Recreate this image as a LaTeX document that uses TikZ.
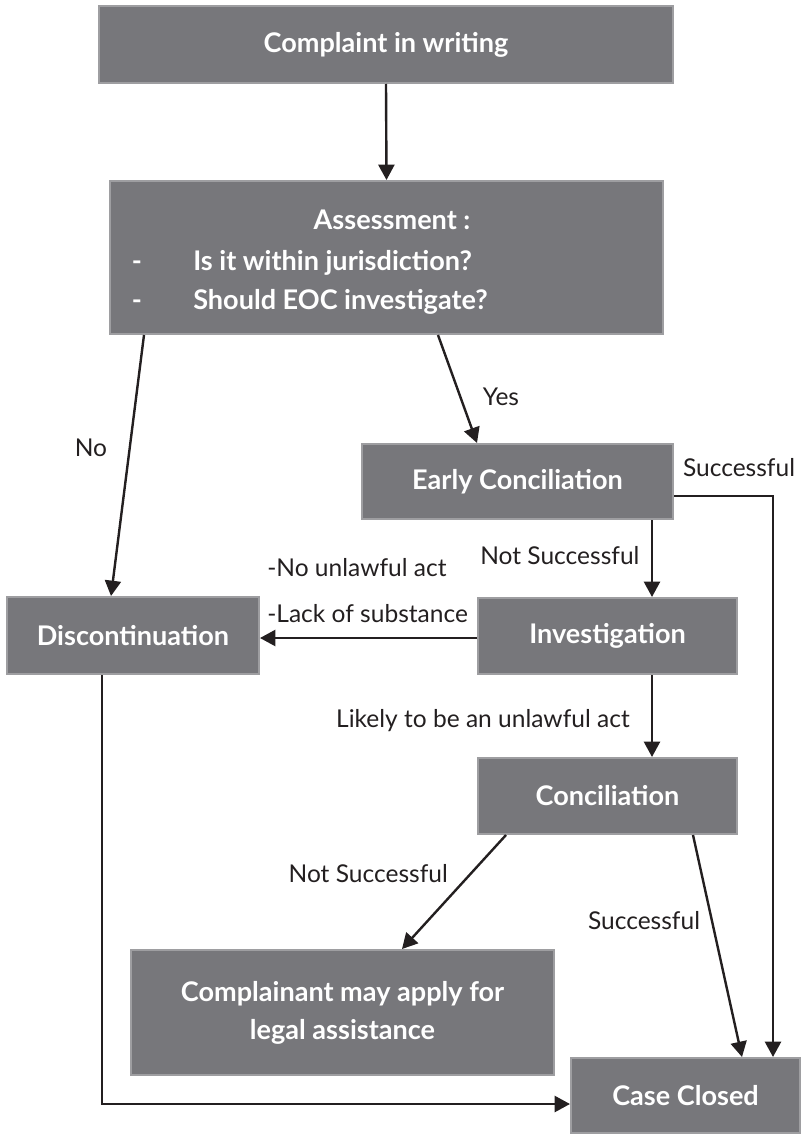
\documentclass[tikz,border=0pt]{standalone}
\usepackage{fontspec}
\setmainfont{Lato}
\usetikzlibrary{arrows.meta,calc}
\definecolor{boxfill}{RGB}{119,119,123}
\definecolor{boxline}{RGB}{158,158,161}
\definecolor{ink}{RGB}{35,31,32}
\begin{document}
\begin{tikzpicture}[x=0.75pt,y=-0.75pt,
  box/.style={draw=boxline, fill=boxfill, line width=1.5pt, inner sep=0pt,
    text=white, font=\fontsize{20.3}{28.5}\selectfont\bfseries, align=center},
  boxtext/.style={inner sep=0pt, text=white, font=\fontsize{20.3}{28.5}\selectfont\bfseries,
    text height=1.5ex, text depth=.25ex},
  lbl/.style={inner sep=0pt, text=ink, font=\fontsize{18.4}{21}\selectfont,
    text height=1.5ex, text depth=.25ex},
  arr/.style={draw=ink, line width=1.8pt, -{Triangle[length=11.5pt,width=12pt]}},
  ln/.style={draw=ink, line width=1.8pt}]
\useasboundingbox (0,0) rectangle (802,1135);

% boxes
\node[box, minimum width=430.5pt, minimum height=57.75pt] (complaint) at (386,44.5) {Complaint in writing};
\node[box, minimum width=414.75pt, minimum height=114.75pt] (assess) at (386.5,257.5) {};
\node[boxtext] (assesst) at (392,225) {Assessment :};
\node[boxtext] (dash1) at (137,266) {-};
\node[boxtext] (dash2) at (137,305) {-};
\node[boxtext, anchor=west] (q1) at (193,266) {Is it within jurisdiction?};
\node[boxtext, anchor=west] (q2) at (193,305) {Should EOC investigate?};
\node[box, minimum width=233.25pt, minimum height=56.25pt] (early) at (517.5,481.5) {Early Conciliation};
\node[box, minimum width=189pt, minimum height=57.75pt] (disc) at (133,635.5) {Discontinuation};
\node[box, minimum width=194.25pt, minimum height=57pt] (invest) at (607.5,636) {Investigation};
\node[box, minimum width=194.25pt, minimum height=57pt] (concil) at (607.5,796) {Conciliation};
\node[box, minimum width=317.25pt, minimum height=93.75pt] (compl) at (342.5,1012.5) {Complainant may apply for\\legal assistance};
\node[box, minimum width=171.75pt, minimum height=56.25pt] (closed) at (685.5,1095.5) {Case Closed};

% connectors
\draw[arr] (complaint.south) -- (assess.north);
\draw[arr] ($(assess.south west)+(35,0)$) -- ($(disc.north)+(-22,0)$);
\draw[arr] ($(assess.south west)+(329,0)$) -- ($(early.north west)+(116,0)$);
\draw[arr] ($(early.east)+(0,14.5)$) -| ($(closed.north west)+(203,0)$);
\draw[arr] ($(early.south west)+(291,0)$) -- ($(invest.north west)+(175,0)$);
\draw[arr] ($(invest.west)+(0,2)$) -- ($(disc.east)+(0,2.5)$);
\draw[arr] ($(invest.south west)+(175,0)$) -- ($(concil.north west)+(175,0)$);
\draw[arr] ($(concil.south west)+(29,0)$) -- ($(compl.north west)+(272,0)$);
\draw[arr] ($(concil.south west)+(216,0)$) -- ($(closed.north west)+(172,0)$);
\draw[arr] ($(disc.south west)+(96,0)$) |- ($(closed.west)+(0,8.5)$);

% labels
\node[lbl] (lno) at (91,452) {No};
\node[lbl] (lyes) at (501,401) {Yes};
\node[lbl] (lsucc1) at (739,472) {Successful};
\node[lbl, anchor=west] (lns1) at (480,560) {Not Successful};
\node[lbl, anchor=west] (lnua) at (267,572) {-No unlawful act};
\node[lbl, anchor=west] (llack) at (267,618) {-Lack of substance};
\node[lbl, anchor=east] (llikely) at (630,723) {Likely to be an unlawful act};
\node[lbl, anchor=east] (lns2) at (448,878) {Not Successful};
\node[lbl] (lsucc2) at (644,925) {Successful};
\end{tikzpicture}
\end{document}
